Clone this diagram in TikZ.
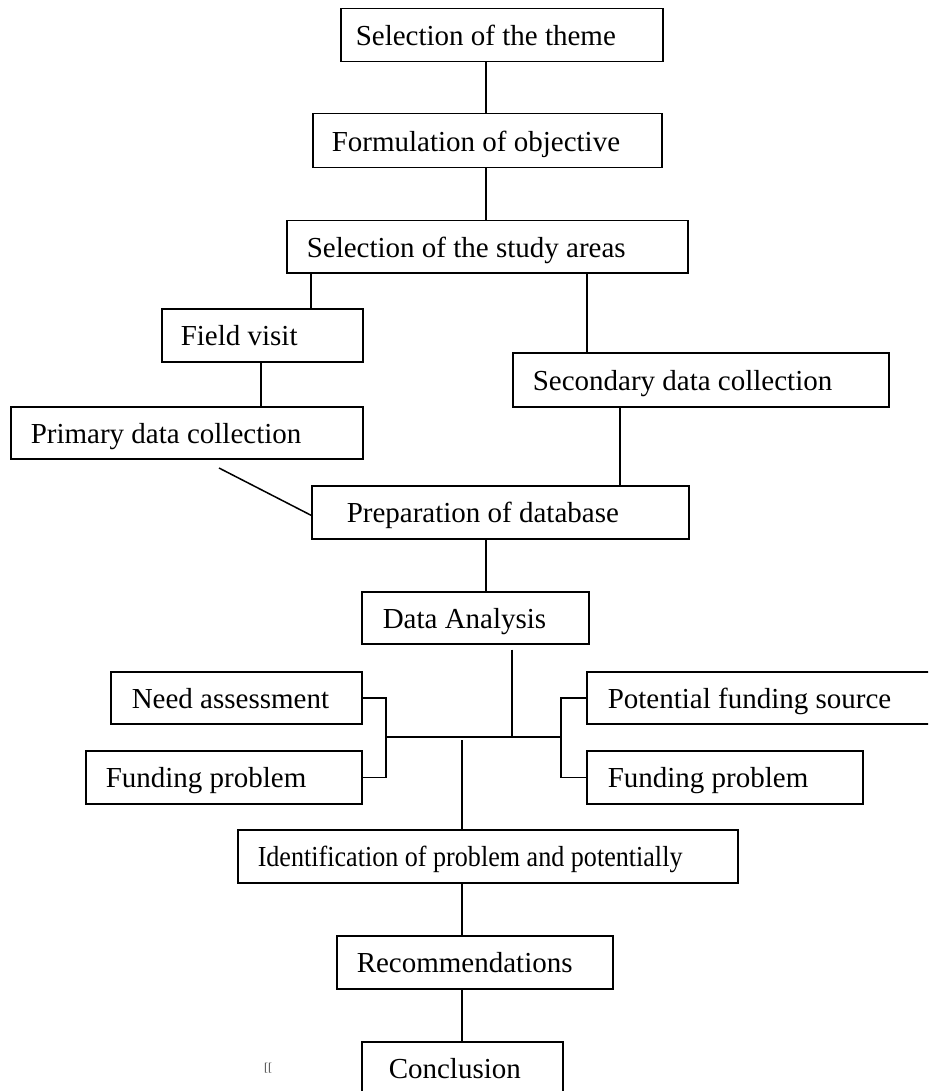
\documentclass[tikz,border=0pt]{standalone}
\usepackage{fontspec}
\usepackage{graphicx}
\setmainfont{Liberation Serif}
\newcommand{\lbl}[2]{\makebox[#1][l]{#2}}
\begin{document}
\begin{tikzpicture}[x=1pt,y=-1pt,
  box/.style={draw, line width=1.5pt, rectangle, anchor=north west,
    inner ysep=0pt, text height=21pt, text depth=0pt,
    font=\fontsize{29pt}{34pt}\selectfont},
  conn/.style={line width=1.5pt}]
\useasboundingbox (0,0) rectangle (928,1091);
\clip (0,0) rectangle (928,1091);
% boxes
\node[box, inner xsep=15pt, minimum height=53pt] (theme)   at (340,8)   {\lbl{292pt}{Selection of the theme}};
\node[box, inner xsep=19pt, minimum height=54pt] (form)    at (312,113) {\lbl{311pt}{Formulation of objective}};
\node[box, inner xsep=20pt, minimum height=52pt] (study)   at (286,220) {\lbl{361pt}{Selection of the study areas}};
\node[box, inner xsep=19pt, minimum height=53pt] (field)   at (161,308) {\lbl{163pt}{Field visit}};
\node[box, inner xsep=20pt, minimum height=54pt] (second)  at (512,352) {\lbl{336pt}{Secondary data collection}};
\node[box, inner xsep=20pt, minimum height=52pt] (primary) at (10,406)  {\lbl{312pt}{Primary data collection}};
\node[box, inner xsep=35pt, minimum height=53pt] (prep)    at (311,485) {\lbl{307pt}{Preparation of database}};
\node[box, inner xsep=21pt, minimum height=52pt] (data)    at (361,591) {\lbl{185pt}{Data Analysis}};
\node[box, inner xsep=21pt, minimum height=52pt] (need)    at (110,671) {\lbl{209pt}{Need assessment}};
\node[box, inner xsep=20pt, minimum height=53pt] (fundL)   at (85,750)  {\lbl{236pt}{Funding problem}};
\node[box, inner xsep=21pt, minimum height=52pt] (pot)     at (586,671) {\lbl{318pt}{Potential funding source}};
\node[box, inner xsep=21pt, minimum height=53pt] (fundR)   at (586,750) {\lbl{234pt}{Funding problem}};
\node[box, inner xsep=20pt, minimum height=53pt] (ident)   at (237,829) {\lbl{460pt}{\scalebox{0.9}[1]{Identification of problem and potentially}}};
\node[box, inner xsep=20pt, minimum height=53pt] (rec)     at (336,935) {\lbl{236pt}{Recommendations}};
\node[box, inner xsep=27pt, minimum height=53pt] (concl)   at (361,1041) {\lbl{147pt}{Conclusion}};
\node[font=\fontsize{12pt}{14pt}\selectfont, text=black!75, inner sep=0pt] (mark) at (268,1068) {[[};
% x positions of connectors
\coordinate (xA) at (486,0);
\coordinate (xF) at (311,0);
\coordinate (xP) at (261,0);
\coordinate (xS) at (587,0);
\coordinate (xS2) at (620,0);
\coordinate (xD) at (512,0);
\coordinate (xL) at (386,0);
\coordinate (xR) at (561,0);
\coordinate (xI) at (462,0);
\coordinate (hubL) at (386,737);
\coordinate (hubR) at (561,737);
\coordinate (hubD) at (512,737);
\coordinate (hubI) at (462,740);
\coordinate (diagS) at (219,468);
% connectors
\draw[conn] (theme.south -| xA) -- (form.north -| xA);
\draw[conn] (form.south -| xA) -- (study.north -| xA);
\draw[conn] (study.south -| xF) -- (field.north -| xF);
\draw[conn] (field.south -| xP) -- (primary.north -| xP);
\draw[conn] (study.south -| xS) -- (second.north -| xS);
\draw[conn] (second.south -| xS2) -- (prep.north -| xS2);
\draw[conn] (diagS) -- ([yshift=-3pt]prep.west);
\draw[conn] (prep.south -| xA) -- (data.north -| xA);
\draw[conn] ([yshift=-5pt]data.south -| xD) -- (hubD);
\draw[conn] (hubL) -- (hubR);
\draw[conn] (need.east) -- (need.east -| xL) -- (fundL.east -| xL) -- (fundL.east);
\draw[conn] (pot.west) -- (pot.west -| xR) -- (fundR.west -| xR) -- (fundR.west);
\draw[conn] (hubI) -- (ident.north -| xI);
\draw[conn] (ident.south -| xI) -- (rec.north -| xI);
\draw[conn] (rec.south -| xI) -- (concl.north -| xI);
\end{tikzpicture}
\end{document}
